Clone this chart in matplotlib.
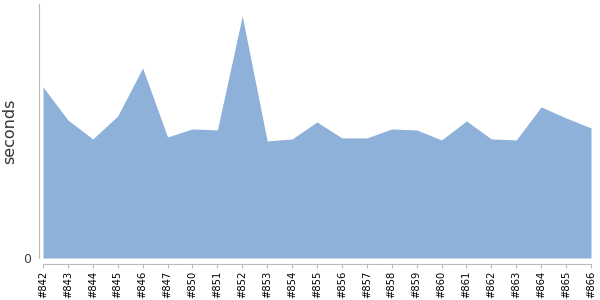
import matplotlib
matplotlib.use('Agg')
import matplotlib.pyplot as plt

BUILDS = ['#842', '#843', '#844', '#845', '#846', '#847', '#850', '#851',
          '#852', '#853', '#854', '#855', '#856', '#857', '#858', '#859',
          '#860', '#861', '#862', '#863', '#864', '#865', '#866']
SECONDS = [171, 138, 119, 142, 190, 121, 129, 128, 242, 117, 119, 136,
           120, 120, 129, 128, 118, 137, 119, 118, 151, 140, 130]
FILL = '#8eb1da'
AXIS_GREY = '#bbbbbb'

fig = plt.figure(figsize=(6, 3), dpi=100)
ax = fig.add_axes([0.065, 0.14, 0.92, 0.847])

x = list(range(len(BUILDS)))
ax.fill_between(x, 0, SECONDS, color=FILL, linewidth=0)
ax.set_xlim(-0.16, len(BUILDS) - 1)
ax.set_ylim(0, 254)

ax.tick_params(axis='x', color=AXIS_GREY, length=3, pad=2,
               labelsize=7.2, labelrotation=90)
ax.tick_params(axis='y', length=0, pad=6, labelsize=9, labelcolor='#444444')
ax.set_xticks(x, BUILDS)
ax.set_yticks([0], ['0'])
ax.set_ylabel('seconds', fontsize=11.5, color='#333333')
ax.yaxis.set_label_coords(-0.04, 0.5)

for side in ('top', 'right'):
    ax.spines[side].set_visible(False)
ax.spines['left'].set_color(AXIS_GREY)
ax.spines['bottom'].set_color(AXIS_GREY)
ax.spines['bottom'].set_position(('outward', 4))
ax.spines['bottom'].set_bounds(0, len(BUILDS) - 1)

fig.savefig('out.png', dpi=100)
